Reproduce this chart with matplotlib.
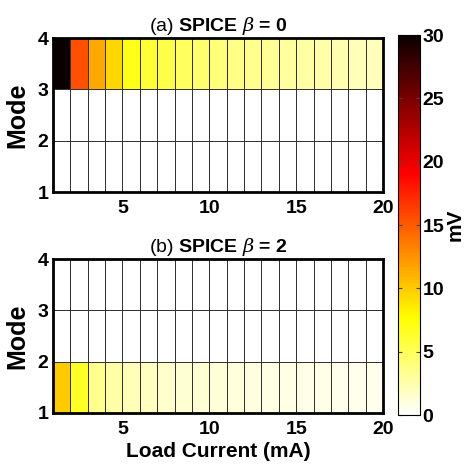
import numpy as np
import matplotlib
matplotlib.use('Agg')
import matplotlib.pyplot as plt

plt.rcParams['font.family'] = ['Liberation Sans', 'DejaVu Sans']
plt.rcParams['mathtext.fontset'] = 'custom'
plt.rcParams['mathtext.rm'] = 'Liberation Sans'
plt.rcParams['mathtext.bf'] = 'Liberation Sans:bold'
plt.rcParams['mathtext.it'] = 'DejaVu Serif:italic'

# Load current bin edges (mA) and mode bin edges
current_edges = np.arange(1, 21)
mode_edges = np.arange(1, 5)

# ripple (mV) in the only non-zero row of each panel
beta0_mode3 = [30, 15.5, 11.6, 9.4, 7.0, 6.0, 5.4, 4.9, 4.4, 4.0, 3.7, 3.4, 3.2, 3.0, 2.8, 2.6, 2.4, 2.2, 2.0]
beta2_mode1 = [10, 6.5, 3.5, 2.6, 2.2, 1.9, 1.6, 1.4, 1.3, 1.2, 1.1, 1.0, 0.9, 0.85, 0.8, 0.75, 0.7, 0.65, 0.6]

titles = [r'$\mathrm{(a)}$ SPICE $\beta$ = 0',
          r'$\mathrm{(b)}$ SPICE $\beta$ = 2']

Z_top = np.zeros((3, 19))
Z_top[2, :] = beta0_mode3
Z_bot = np.zeros((3, 19))
Z_bot[0, :] = beta2_mode1

fig = plt.figure(figsize=(4.67, 4.65), dpi=100)
ax1 = fig.add_axes([0.1135, 0.587, 0.7066, 0.331])
ax2 = fig.add_axes([0.1135, 0.112, 0.7066, 0.331])
cax = fig.add_axes([0.852, 0.1075, 0.047, 0.817])

for ax, Z, title in [(ax1, Z_top, titles[0]), (ax2, Z_bot, titles[1])]:
    mesh = ax.pcolormesh(current_edges, mode_edges, Z, cmap='hot_r', vmin=0, vmax=30,
                         edgecolors='#333333', linewidth=0.6)
    ax.set_xlim(1, 20)
    ax.set_ylim(1, 4)
    ax.set_xticks([5, 10, 15, 20])
    ax.set_yticks([1, 2, 3, 4])
    ax.tick_params(axis='x', length=0, labelsize=14, pad=6)
    ax.tick_params(axis='y', length=0, labelsize=14, pad=3.5)
    for lab in ax.get_xticklabels() + ax.get_yticklabels():
        lab.set_fontweight('bold')
    for sp in ax.spines.values():
        sp.set_linewidth(2)
    ax.set_ylabel('Mode', fontsize=18, fontweight='bold', labelpad=6)
    ax.set_title(title, fontsize=14, fontweight='bold', pad=5)

ax2.set_xlabel('Load Current (mA)', fontsize=15, fontweight='bold', labelpad=3)

cb = fig.colorbar(mesh, cax=cax, ticks=[0, 5, 10, 15, 20, 25, 30])
cb.outline.set_linewidth(0.8)
cax.tick_params(labelsize=14, length=3, direction='in', pad=2, left=True, color='#444444')
for lab in cax.get_yticklabels():
    lab.set_fontweight('bold')
cb.set_label('mV', fontsize=15, fontweight='bold', labelpad=1)

fig.savefig('out.png', dpi=100)
